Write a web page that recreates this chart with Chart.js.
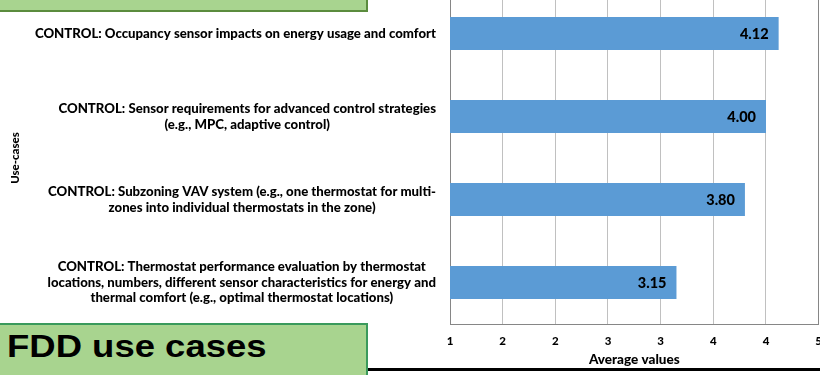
<!DOCTYPE html>
<html>
<head>
<meta charset="utf-8">
<script src="https://cdn.jsdelivr.net/npm/chart.js@4.4.1/dist/chart.umd.min.js"></script>
<style>
  body { margin: 0; width: 820px; height: 375px; overflow: hidden; background: #fff; position: relative; font-family: Lato, sans-serif; }
  #useCases { position: absolute; left: 0; top: -20px; }
  .banner { position: absolute; background: #a8d48f; box-sizing: border-box; }
  #bannerTop { left: -3px; top: -30px; width: 371px; height: 42px; border: 2px solid #5b8c3e; }
  #bannerBottom { left: -3px; top: 323px; width: 371px; height: 60px; border: 2px solid #3a9a5c; }
  #bannerBottom span { position: absolute; left: 8px; top: 3px; font: bold 32px "Liberation Sans", Arial, sans-serif; color: #000; transform-origin: 0 0; transform: scaleX(1.14); white-space: nowrap; }
  #rule { position: absolute; left: 368px; top: 368px; width: 460px; height: 3px; background: #000; }
</style>
</head>
<body>
<canvas id="useCases" width="832" height="395"></canvas>
<div class="banner" id="bannerTop"></div>
<div class="banner" id="bannerBottom"><span>FDD use cases</span></div>
<div id="rule"></div>
<script>
const categories = [
  ["CONTROL: Occupancy sensor impacts on energy usage and comfort"],
  ["CONTROL: Sensor requirements for advanced control strategies", "(e.g., MPC, adaptive control)"],
  ["CONTROL: Subzoning VAV system (e.g., one thermostat for multi-", "zones into individual thermostats in the zone)"],
  ["CONTROL: Thermostat performance evaluation by thermostat", "locations, numbers, different sensor characteristics for energy and", "thermal comfort (e.g., optimal thermostat locations)"]
];
const averages = [4.12, 4.00, 3.80, 3.15];
const tickLabels = ["1", "2", "2", "3", "3", "4", "4", "5"];

const FONT = "Lato, 'Open Sans', sans-serif";
const WEIGHT = 900;

// category labels: block sits against the axis, lines centred inside it
const categoryLabels = {
  id: 'categoryLabels',
  afterDraw(chart) {
    const ctx = chart.ctx;
    const y = chart.scales.y;
    ctx.save();
    ctx.font = WEIGHT + " 13.2px " + FONT;
    ctx.fillStyle = '#000';
    ctx.textAlign = 'center';
    ctx.textBaseline = 'middle';
    const lh = 15.5;
    categories.forEach((lines, i) => {
      const w = Math.max(...lines.map(l => ctx.measureText(l).width));
      const cx = y.right - 14 - w / 2;
      const cy = y.getPixelForValue(i);
      lines.forEach((l, j) => {
        ctx.fillText(l, cx, cy + (j - (lines.length - 1) / 2) * lh);
      });
    });
    ctx.restore();
  }
};

// value labels inside the end of each bar
const barValues = {
  id: 'barValues',
  afterDatasetsDraw(chart) {
    const ctx = chart.ctx;
    const meta = chart.getDatasetMeta(0);
    ctx.save();
    ctx.font = WEIGHT + " 14.5px " + FONT;
    ctx.fillStyle = '#000';
    ctx.textAlign = 'right';
    ctx.textBaseline = 'middle';
    meta.data.forEach((bar, i) => {
      ctx.fillText(averages[i].toFixed(2), bar.x - 10, bar.y + 1);
    });
    ctx.restore();
  }
};

new Chart(document.getElementById('useCases'), {
  type: 'bar',
  data: {
    labels: categories,
    datasets: [{
      data: averages,
      backgroundColor: '#5b9bd5',
      borderWidth: 0,
      categoryPercentage: 0.8,
      barPercentage: 0.5
    }]
  },
  options: {
    indexAxis: 'y',
    responsive: false,
    animation: false,
    devicePixelRatio: 1,
    layout: { padding: { top: 12, right: 2, left: 0, bottom: 0 } },
    plugins: { legend: { display: false }, tooltip: { enabled: false } },
    scales: {
      x: {
        type: 'linear',
        min: 1,
        max: 4.5,
        ticks: {
          stepSize: 0.5,
          padding: 10,
          color: '#000',
          font: { family: FONT, size: 11.5, weight: WEIGHT },
          callback: (v, i) => tickLabels[i]
        },
        grid: {
          drawTicks: false,
          color: ctx => ctx.index === tickLabels.length - 1 ? '#868686' : '#c0c0c0'
        },
        border: { color: '#868686' },
        title: {
          display: true,
          text: 'Average values',
          color: '#000',
          font: { family: FONT, size: 13.5, weight: WEIGHT },
          padding: { top: 0, bottom: 7 }
        },
        afterFit: s => { s.height = 51; }
      },
      y: {
        type: 'category',
        ticks: { display: false },
        grid: { display: false },
        border: { color: '#868686' },
        title: {
          display: true,
          text: 'Use-cases',
          color: '#000',
          font: { family: FONT, size: 11.5, weight: WEIGHT },
          padding: { top: 8, bottom: 4 }
        },
        afterFit: s => { s.width = 450; }
      }
    }
  },
  plugins: [categoryLabels, barValues]
});
</script>
</body>
</html>
